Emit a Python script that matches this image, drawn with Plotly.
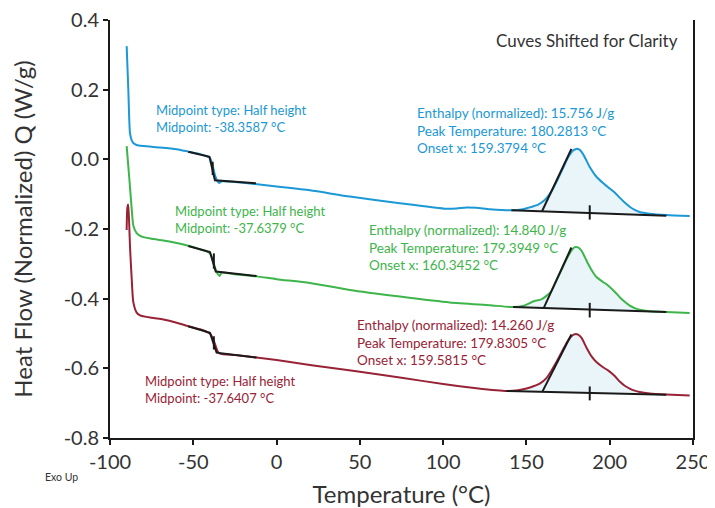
import numpy as np
import plotly.graph_objects as go

# ---------------- data ----------------
blue_x = [-90, -89, -88, -87, -86, -84, -80, -70, -60, -53, -46, -42, -40, -38.5, -37, -35.5, -34.5, -33,
          -25, -13, 0, 20, 44, 74, 102, 108, 114, 120, 128, 141, 148, 152, 157, 161, 165, 168, 172, 175,
          178, 180, 182, 184, 186, 188, 192, 196, 199, 203, 206, 209, 212, 215, 218, 224, 234, 248]
blue_y = [0.325, 0.20, 0.075, 0.055, 0.047, 0.041, 0.038, 0.034, 0.029, 0.022, 0.015, 0.009, 0.004, -0.015,
          -0.045, -0.063, -0.068, -0.063, -0.065, -0.071, -0.078, -0.089, -0.107, -0.126, -0.142, -0.141,
          -0.138, -0.139, -0.143, -0.146, -0.143, -0.138, -0.130, -0.117, -0.092, -0.065, -0.025, 0.005,
          0.025, 0.030, 0.027, 0.015, -0.003, -0.022, -0.050, -0.068, -0.080, -0.095, -0.110, -0.124,
          -0.136, -0.145, -0.151, -0.156, -0.160, -0.163]

green_x = [-90, -89, -88, -87, -86, -84, -81, -75, -68, -60, -53, -46, -42, -40, -38.5, -37, -35.5, -34.2,
           -33, -25, -12, 0, 20, 44, 74, 104, 128, 142, 148, 151, 154, 159, 162, 165, 168, 171, 174, 177,
           179, 181, 183, 185, 187, 190, 192, 196, 199, 203, 206, 209, 212, 215, 218, 224, 234, 248]
green_y = [0.038, -0.02, -0.08, -0.14, -0.19, -0.212, -0.222, -0.228, -0.233, -0.240, -0.248, -0.258,
           -0.264, -0.270, -0.285, -0.310, -0.328, -0.335, -0.325, -0.330, -0.336, -0.344, -0.355, -0.375,
           -0.394, -0.411, -0.419, -0.424, -0.421, -0.415, -0.408, -0.402, -0.392, -0.378, -0.348, -0.318,
           -0.288, -0.262, -0.252, -0.253, -0.262, -0.280, -0.300, -0.325, -0.338, -0.352, -0.362, -0.380,
           -0.396, -0.409, -0.420, -0.427, -0.432, -0.436, -0.438, -0.441]

red_x = [-90, -89.6, -89.1, -88.6, -88, -87, -86, -84, -82, -75, -68, -60, -53, -46, -42, -40, -38.5, -37,
         -35.5, -34, -25, -12, 0, 14, 30, 50, 75, 100, 120, 138, 145, 150, 155, 158, 162, 165, 168, 171,
         174, 177, 179, 181, 183, 186, 189, 192, 196, 199, 203, 206, 209, 212, 215, 218, 224, 234, 248]
red_y = [-0.203, -0.14, -0.130, -0.17, -0.25, -0.34, -0.41, -0.440, -0.448, -0.455, -0.460, -0.469, -0.479,
         -0.488, -0.495, -0.500, -0.512, -0.530, -0.550, -0.558, -0.562, -0.569, -0.576, -0.586, -0.597,
         -0.610, -0.627, -0.645, -0.657, -0.665, -0.663, -0.658, -0.650, -0.644, -0.628, -0.607, -0.582,
         -0.555, -0.528, -0.508, -0.502, -0.503, -0.512, -0.540, -0.565, -0.582, -0.597, -0.606, -0.622,
         -0.638, -0.650, -0.658, -0.664, -0.668, -0.672, -0.675, -0.678]

# glass transition tangents and midpoint ticks
blue_tg_x = [-53, -40.3, -37.0, -12.4]
blue_tg_y = [0.022, 0.007, -0.060, -0.069]
blue_mid_x = [-38.36, -38.36]
blue_mid_y = [-0.007, -0.045]
green_tg_x = [-53, -40, -36.5, -12]
green_tg_y = [-0.249, -0.266, -0.322, -0.335]
green_mid_x = [-37.64, -37.64]
green_mid_y = [-0.270, -0.314]
red_tg_x = [-53, -40, -36, -12]
red_tg_y = [-0.479, -0.498, -0.555, -0.569]
red_mid_x = [-37.64, -37.64]
red_mid_y = [-0.508, -0.546]

# melting peak baselines, onset tangents and ticks
blue_base_x = [141, 234]
blue_base_y = [-0.146, -0.162]
blue_on_x = [159.38, 177]
blue_on_y = [-0.149, 0.030]
blue_pk_x = [188, 188]
blue_pk_y = [-0.132, -0.173]
green_base_x = [142, 234]
green_base_y = [-0.424, -0.438]
green_on_x = [160.35, 177]
green_on_y = [-0.427, -0.253]
green_pk_x = [188, 188]
green_pk_y = [-0.412, -0.454]
red_base_x = [138, 234]
red_base_y = [-0.665, -0.676]
red_on_x = [159.58, 177]
red_on_y = [-0.667, -0.503]
red_pk_x = [188, 188]
red_pk_y = [-0.652, -0.692]

# annotation texts
blue_tg_text = ["Midpoint type: Half height", "Midpoint: -38.3587 °C"]
green_tg_text = ["Midpoint type: Half height", "Midpoint: -37.6379 °C"]
red_tg_text = ["Midpoint type: Half height", "Midpoint: -37.6407 °C"]
blue_pk_text = ["Enthalpy (normalized): 15.756 J/g", "Peak Temperature: 180.2813 °C", "Onset x: 159.3794 °C"]
green_pk_text = ["Enthalpy (normalized): 14.840 J/g", "Peak Temperature: 179.3949 °C", "Onset x: 160.3452 °C"]
red_pk_text = ["Enthalpy (normalized): 14.260 J/g", "Peak Temperature: 179.8305 °C", "Onset x: 159.5815 °C"]

x_ticks = [-100, -50, 0, 50, 100, 150, 200, 250]
y_ticks = [0.4, 0.2, 0.0, -0.2, -0.4, -0.6, -0.8]
y_tick_text = ["0.4", "0.2", "0.0", "-0.2", "-0.4", "-0.6", "-0.8"]

BLUE = "#1b98d5"
GREEN = "#3db54a"
RED = "#982336"
FILL = "#eaf5fa"
FONT = "Lato"

fig = go.Figure()

def add_fill(cx, cy, bx, by):
    cx = np.array(cx, float)
    cy = np.array(cy, float)
    m = (cx >= bx[0]) & (cx <= bx[1])
    px = list(cx[m])
    py = list(cy[m])
    poly_x = [bx[0]] + px + [bx[1], bx[0]]
    poly_y = [by[0]] + py + [by[1], by[0]]
    fig.add_trace(go.Scatter(x=poly_x, y=poly_y, mode="lines", fill="toself",
                             fillcolor=FILL, line=dict(width=0), hoverinfo="skip",
                             showlegend=False))

add_fill(blue_x, blue_y, blue_base_x, blue_base_y)
add_fill(green_x, green_y, green_base_x, green_base_y)
add_fill(red_x, red_y, red_base_x, red_base_y)

for xs, ys, c in [(blue_x, blue_y, BLUE), (green_x, green_y, GREEN), (red_x, red_y, RED)]:
    fig.add_trace(go.Scatter(x=xs, y=ys, mode="lines",
                             line=dict(color=c, width=2, shape="spline", smoothing=0.6),
                             showlegend=False))

for xs, ys in [(blue_tg_x, blue_tg_y), (blue_mid_x, blue_mid_y),
               (green_tg_x, green_tg_y), (green_mid_x, green_mid_y),
               (red_tg_x, red_tg_y), (red_mid_x, red_mid_y),
               (blue_base_x, blue_base_y), (blue_on_x, blue_on_y), (blue_pk_x, blue_pk_y),
               (green_base_x, green_base_y), (green_on_x, green_on_y), (green_pk_x, green_pk_y),
               (red_base_x, red_base_y), (red_on_x, red_on_y), (red_pk_x, red_pk_y)]:
    fig.add_trace(go.Scatter(x=xs, y=ys, mode="lines",
                             line=dict(color="#1a1a1a", width=2), showlegend=False))

def note(x, y, text, color, size=12.5, xanchor="left", xref="x", yref="y"):
    fig.add_annotation(x=x, y=y, xref=xref, yref=yref, text=text, showarrow=False,
                       xanchor=xanchor, yanchor="middle", align="left" if xanchor == "left" else "right",
                       font=dict(family=FONT, size=size, color=color))

note(-73.6, 0.1174, "<br>".join(blue_tg_text), BLUE, 13)
note(-62.0, -0.1733, "<br>".join(green_tg_text), GREEN, 13)
note(-80.0, -0.6595, "<br>".join(red_tg_text), RED, 13)
note(83.1, 0.0825, "<br>".join(blue_pk_text), BLUE, 13.5)
note(54.1, -0.2523, "<br>".join(green_pk_text), GREEN, 13.5)
note(47.1, -0.5267, "<br>".join(red_pk_text), RED, 13.5)
note(242.2, 0.3405, "Cuves Shifted for Clarity", "#333333", size=17, xanchor="right")
note((43 - 110) / 583, (438 - 477) / 418, "Exo Up", "#333333", size=10.5, xref="paper", yref="paper")

axis_common = dict(showgrid=False, zeroline=False, showline=True, linecolor="#1a1a1a", linewidth=2,
                   ticks="outside", ticklen=5, tickwidth=1.5, tickcolor="#1a1a1a", automargin=False,
                   ticklabeloverflow="allow",
                   tickfont=dict(family=FONT, size=20, color="#333333"))

fig.update_xaxes(range=[-100, 250], tickvals=x_ticks, ticktext=[str(v) for v in x_ticks],
                 title=dict(text="Temperature (°C)", font=dict(family=FONT, size=24, color="#333333"),
                            standoff=16),
                 **axis_common)
fig.update_yaxes(range=[-0.8, 0.4], tickvals=y_ticks, ticktext=y_tick_text, mirror=True,
                 title=dict(text="Heat Flow (Normalized) Q (W/g)",
                            font=dict(family=FONT, size=24, color="#333333"), standoff=24),
                 **axis_common)

fig.update_layout(width=707, height=500, margin=dict(l=102, r=22, t=12, b=70),
                  paper_bgcolor="white", plot_bgcolor="white", showlegend=False,
                  font=dict(family=FONT))

fig.write_html("out.html")
